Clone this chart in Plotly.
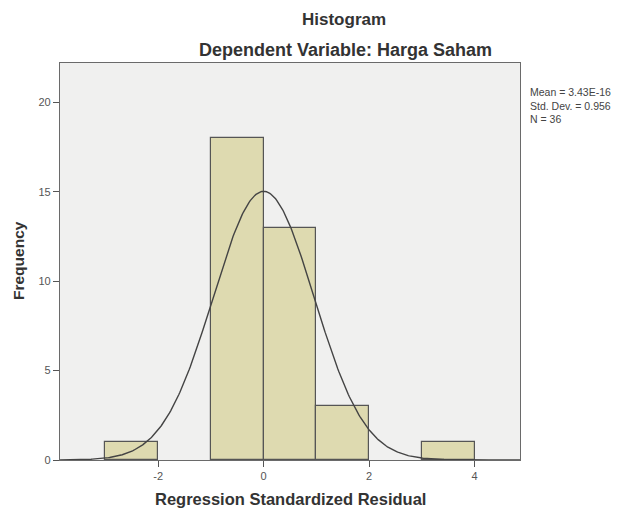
import numpy as np
import plotly.graph_objects as go

bin_left = [-3, -2, -1, 0, 1, 2, 3]
counts = [1, 0, 18, 13, 3, 0, 1]
bin_width = 1.0
mean_val = 3.43e-16
std_val = 0.956
n_val = 36
y_ticks = [0, 5, 10, 15, 20]
x_ticks = [-2, 0, 2, 4]
x_tick_text = ["-2", "0", "2", "4"]
stats_lines = ["Mean = 3.43E-16", "Std. Dev. = 0.956", "N = 36"]

xs = [b + bin_width / 2 for b, c in zip(bin_left, counts) if c > 0]
ys = [c for c in counts if c > 0]

W, H = 622, 508
L, R, T, B = 60, 102, 63, 48
plot_w = W - L - R
plot_h = H - T - B


def px(x):
    return (x - L) / plot_w


def py(y):
    return (H - B - y) / plot_h


fig = go.Figure()
fig.add_trace(go.Bar(
    x=xs, y=ys, width=bin_width,
    marker=dict(color="#dedab0", line=dict(color="#555555", width=1.2)),
    hoverinfo="skip"))

cx = np.linspace(-3.86, 4.86, 400)
cy = n_val * bin_width / (std_val * np.sqrt(2 * np.pi)) * np.exp(-0.5 * ((cx - mean_val) / std_val) ** 2)
fig.add_trace(go.Scatter(x=cx, y=cy, mode="lines",
                         line=dict(color="#444444", width=1.4), hoverinfo="skip"))

font = "Liberation Sans, Arial, sans-serif"
annotations = [
    dict(text="<b>Histogram</b>", x=px(344), y=py(19), xref="paper", yref="paper",
         showarrow=False, xanchor="center", yanchor="middle",
         font=dict(size=17, color="#333333")),
    dict(text="<b>Dependent Variable: Harga Saham</b>", x=px(345), y=py(50),
         xref="paper", yref="paper", showarrow=False,
         xanchor="center", yanchor="middle",
         font=dict(size=18, color="#333333")),
    dict(text="<br>".join(stats_lines), x=px(528), y=py(84), xref="paper", yref="paper",
         showarrow=False, xanchor="left", yanchor="top", align="left",
         font=dict(size=10.5, color="#444444")),
    dict(text="<b>Regression Standardized Residual</b>", x=px(290), y=py(499),
         xref="paper", yref="paper", showarrow=False,
         xanchor="center", yanchor="middle",
         font=dict(size=16.5, color="#333333")),
    dict(text="<b>Frequency</b>", x=px(18), y=py(261), textangle=-90,
         xref="paper", yref="paper", showarrow=False,
         xanchor="center", yanchor="middle",
         font=dict(size=15.5, color="#333333")),
]

fig.update_layout(
    width=W, height=H,
    margin=dict(l=L, r=R, t=T, b=B, autoexpand=False),
    paper_bgcolor="white", plot_bgcolor="#f0f0ef",
    showlegend=False, bargap=0,
    font=dict(family=font, size=11, color="#333333"),
    xaxis=dict(range=[-3.86, 4.86], tickvals=x_ticks, ticktext=x_tick_text,
               ticks="outside", ticklen=6, automargin=False,
               tickcolor="#555555", showgrid=False, zeroline=False,
               showline=True, linecolor="#6a6a6a", mirror=True, linewidth=1.3,
               tickfont=dict(size=11, color="#555555")),
    yaxis=dict(range=[0, 22.2], tickvals=y_ticks, ticks="outside", ticklen=6,
               automargin=False,
               tickcolor="#555555", showgrid=False, zeroline=False,
               showline=True, linecolor="#6a6a6a", mirror=True, linewidth=1.3,
               tickfont=dict(size=11, color="#555555")),
    annotations=annotations,
)

fig.write_html("out.html", config={"displayModeBar": False},
               post_script=("document.body.style.margin='0px';"
                            "document.body.style.overflow='hidden';"
                            "document.documentElement.style.overflow='hidden';"))
